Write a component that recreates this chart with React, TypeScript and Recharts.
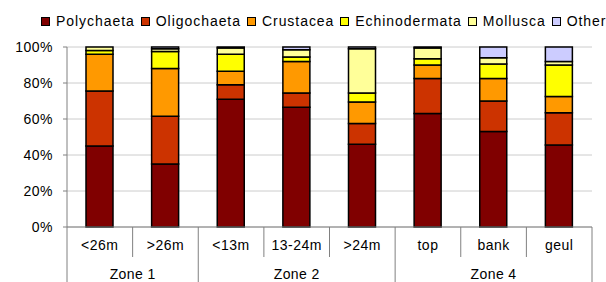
import React from 'react';
import { BarChart, Bar, XAxis, YAxis, CartesianGrid } from 'recharts';

const categories = ['<26m', '>26m', '<13m', '13-24m', '>24m', 'top', 'bank', 'geul'];
const zoneNames = ['Zone 1', 'Zone 2', 'Zone 4'];
const zoneSizes = [2, 3, 3];

const polychaeta = [45, 35, 71, 66.5, 46, 63, 53, 45.5];
const oligochaeta = [30.5, 26.5, 8, 8, 11.5, 19.5, 17, 18];
const crustacea = [20.5, 26.5, 7.5, 17.5, 12, 7.5, 12.5, 9];
const echinodermata = [2, 9.5, 9.5, 2.5, 5, 3.5, 8, 17.5];
const mollusca = [2, 1.5, 3.5, 4, 24.5, 6, 3.5, 2];
const others = [0, 1, 0.5, 1.5, 1, 0.5, 6, 8];

const yTicks = [0, 20, 40, 60, 80, 100];

const series = [
  { key: 'Polychaeta', values: polychaeta, color: '#800000' },
  { key: 'Oligochaeta', values: oligochaeta, color: '#CC3300' },
  { key: 'Crustacea', values: crustacea, color: '#FF9900' },
  { key: 'Echinodermata', values: echinodermata, color: '#FFFF00' },
  { key: 'Mollusca', values: mollusca, color: '#FFFF99' },
  { key: 'Others', values: others, color: '#CCCCFF' },
];

const data = categories.map((c, i) => {
  const row: Record<string, any> = { name: c };
  series.forEach((s) => {
    row[s.key] = s.values[i];
  });
  return row;
});

const FONT = '"Liberation Sans", Arial, sans-serif';
const AXIS_COLOR = '#808080';

const zoneStarts: number[] = [];
{
  let acc = 0;
  zoneSizes.forEach((s) => {
    zoneStarts.push(acc);
    acc += s;
  });
}

function CategoryTick(props: any) {
  const { x, y, payload, index, width } = props;
  const n = categories.length;
  const bw = (width && width > 0 ? width : 525.6) / n;
  const left = x - bw / 2;
  const zi = zoneStarts.indexOf(index);
  const isZoneStart = zi >= 0;
  const fullLen = 55;
  const shortLen = 30;
  return (
    <g>
      <line
        x1={left}
        x2={left}
        y1={y}
        y2={y + (isZoneStart ? fullLen : shortLen)}
        stroke={AXIS_COLOR}
        strokeWidth={1}
      />
      {index === n - 1 && (
        <line x1={x + bw / 2} x2={x + bw / 2} y1={y} y2={y + fullLen} stroke={AXIS_COLOR} strokeWidth={1} />
      )}
      <text
        x={x}
        y={y + 23}
        textAnchor="middle"
        fontSize={14}
        fontFamily={FONT}
        fill="#000"
        style={{ letterSpacing: '0.5px' }}
      >
        {payload.value}
      </text>
      {isZoneStart && (
        <text
          x={left + (zoneSizes[zi] * bw) / 2}
          y={y + 52}
          textAnchor="middle"
          fontSize={14}
          fontFamily={FONT}
          fill="#000"
          style={{ letterSpacing: '0.4px' }}
        >
          {zoneNames[zi]}
        </text>
      )}
    </g>
  );
}

function LegendBox() {
  return (
    <div
      style={{
        position: 'absolute',
        left: 41,
        top: 13,
        height: 16,
        display: 'flex',
        alignItems: 'center',
        whiteSpace: 'nowrap',
        fontFamily: FONT,
        fontSize: 14,
        letterSpacing: '0.95px',
        color: '#000',
        lineHeight: '16px',
      }}
    >
      {series.map((s) => (
        <div key={s.key} style={{ display: 'flex', alignItems: 'center', marginRight: 6 }}>
          <span
            style={{
              display: 'inline-block',
              width: 7,
              height: 7,
              background: s.color,
              border: '1px solid #000',
              marginRight: 6,
            }}
          />
          <span>{s.key}</span>
        </div>
      ))}
    </div>
  );
}

export default function App() {
  return (
    <div style={{ position: 'absolute', left: 0, top: 0, width: 606, height: 282, background: '#fff', overflow: 'hidden' }}>
      <LegendBox />
      <BarChart
        width={606}
        height={282}
        data={data}
        margin={{ top: 47, right: 14, bottom: 0, left: 0 }}
        barSize={27}
      >
        <CartesianGrid vertical={false} stroke="#cccccc" />
        <XAxis
          dataKey="name"
          interval={0}
          height={55}
          tickLine={false}
          tickSize={0}
          tickMargin={0}
          axisLine={{ stroke: AXIS_COLOR }}
          tick={<CategoryTick />}
        />
        <YAxis
          width={67}
          domain={[0, 100]}
          ticks={yTicks}
          interval={0}
          tickSize={4}
          tickMargin={10}
          tickFormatter={(v: number) => `${v}%`}
          axisLine={{ stroke: AXIS_COLOR }}
          tickLine={{ stroke: AXIS_COLOR }}
          tick={{ fontSize: 14, fontFamily: FONT, fill: '#000', style: { letterSpacing: '0.5px' } }}
        />
        {series.map((s) => (
          <Bar
            key={s.key}
            dataKey={s.key}
            stackId="a"
            fill={s.color}
            stroke="#000"
            strokeWidth={1.5}
            isAnimationActive={false}
          />
        ))}
      </BarChart>
    </div>
  );
}
